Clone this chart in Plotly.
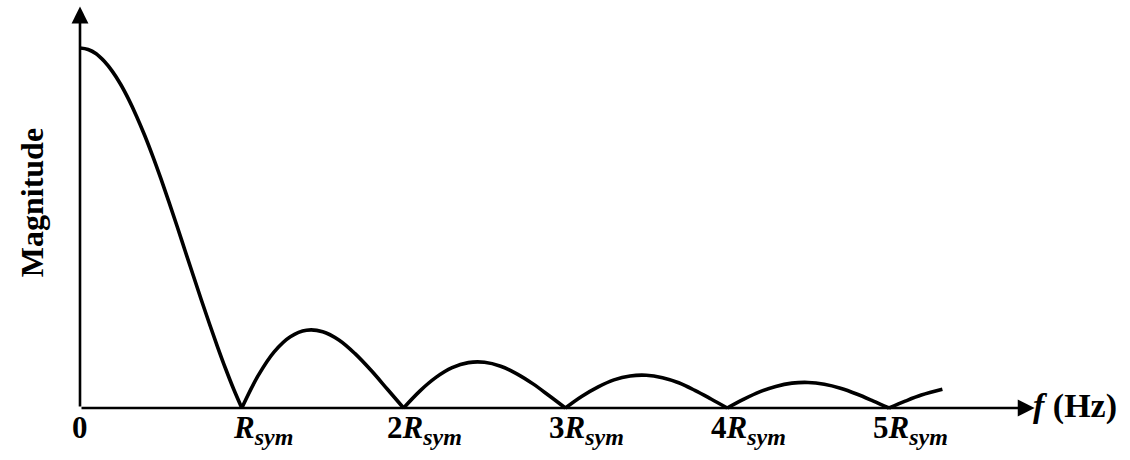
import plotly.graph_objects as go

# Normalised frequency (multiples of the symbol rate) and spectrum magnitude
freq = [0.0, 0.05, 0.1, 0.15, 0.2, 0.25, 0.3, 0.35, 0.4, 0.45,
        0.5, 0.55, 0.6, 0.65, 0.7, 0.75, 0.8, 0.85, 0.9, 0.95,
        1.0, 1.1, 1.2, 1.3, 1.4, 1.5, 1.6, 1.7, 1.8, 1.9,
        2.0, 2.1, 2.2, 2.3, 2.4, 2.5, 2.6, 2.7, 2.8, 2.9,
        3.0, 3.1, 3.2, 3.3, 3.4, 3.5, 3.6, 3.7, 3.8, 3.9,
        4.0, 4.1, 4.2, 4.3, 4.4, 4.5, 4.6, 4.7, 4.8, 4.9,
        5.0, 5.1, 5.2, 5.33]
magnitude = [1.000, 0.996, 0.984, 0.963, 0.935, 0.900, 0.858, 0.810, 0.757, 0.699,
             0.637, 0.572, 0.505, 0.436, 0.368, 0.300, 0.234, 0.170, 0.109, 0.052,
             0.000, 0.089, 0.156, 0.198, 0.216, 0.212, 0.189, 0.151, 0.104, 0.052,
             0.000, 0.047, 0.085, 0.112, 0.126, 0.127, 0.116, 0.095, 0.067, 0.034,
             0.000, 0.032, 0.058, 0.078, 0.089, 0.091, 0.084, 0.070, 0.049, 0.025,
             0.000, 0.024, 0.045, 0.060, 0.069, 0.071, 0.066, 0.055, 0.039, 0.020,
             0.000, 0.019, 0.036, 0.052]

tick_pos = [0, 1, 2, 3, 4, 5]
tick_num = ["0", "", "2", "3", "4", "5"]

FONT = "Liberation Serif"
INK = "black"

fig = go.Figure()

# Draw each lobe separately so the nulls stay sharp
nulls = [i for i, m in enumerate(magnitude) if m == 0.0]
starts = [0] + nulls
ends = nulls + [len(magnitude) - 1]
for s, e in zip(starts, ends):
    if e <= s:
        continue
    fig.add_trace(go.Scatter(
        x=freq[s:e + 1], y=magnitude[s:e + 1], mode="lines",
        line=dict(color=INK, width=3.6, shape="spline", smoothing=1.0),
        hoverinfo="skip", showlegend=False,
    ))

# Axes drawn as arrows from the origin
x_tip = 5.90
y_tip = 1.115
for tx, ty in [(x_tip, 0), (0, y_tip)]:
    fig.add_annotation(x=tx, y=ty, ax=0, ay=0, xref="x", yref="y",
                       axref="x", ayref="y", text="", showarrow=True,
                       arrowhead=2, arrowsize=1.3, arrowwidth=2.6,
                       arrowcolor=INK)

# Tick labels along the frequency axis
SUB = '<sub><span style="font-size:24px"><b><i>sym</i></b></span></sub>'
for p, n in zip(tick_pos, tick_num):
    if p == 0:
        txt, shift = "<b>0</b>", 0
    else:
        txt = f"<b>{n}<i>R</i></b>{SUB}"
        shift = 21
    fig.add_annotation(x=p, y=-0.008, xref="x", yref="y", text=txt,
                       showarrow=False, xanchor="center", yanchor="top",
                       xshift=shift, yshift=3,
                       font=dict(family=FONT, size=31, color=INK))

# Axis titles
fig.add_annotation(x=5.90, y=0.005, xref="x", yref="y",
                   text="<b><i>f</i></b> <b>(Hz)</b>", showarrow=False,
                   xanchor="left", yanchor="middle", xshift=-4,
                   font=dict(family=FONT, size=34, color=INK))
fig.add_annotation(x=-0.30, y=0.57, xref="x", yref="y",
                   text="<b>Magnitude</b>", showarrow=False, textangle=-90,
                   xanchor="center", yanchor="middle",
                   font=dict(family=FONT, size=32, color=INK))

px_per_x = 161.8
px_per_y = 360.0
fig.update_layout(
    width=1130, height=460,
    margin=dict(l=0, r=0, t=0, b=0),
    paper_bgcolor="white", plot_bgcolor="white",
    xaxis=dict(visible=False, range=[-80 / px_per_x, 1050 / px_per_x],
               fixedrange=True),
    yaxis=dict(visible=False, range=[-52 / px_per_y, 408 / px_per_y],
               fixedrange=True),
)

fig.write_html("out.html")
